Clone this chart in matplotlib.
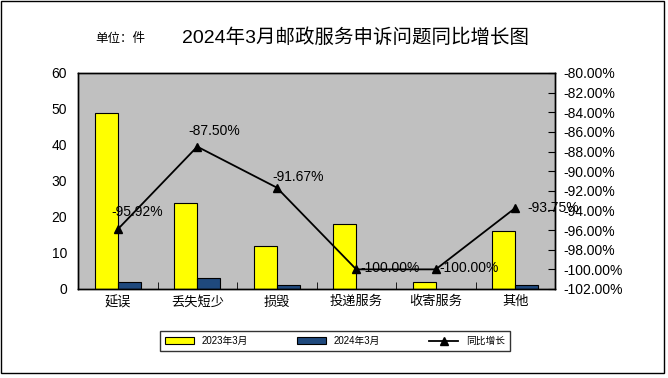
import numpy as np
import matplotlib
matplotlib.use("Agg")
import matplotlib.pyplot as plt
from matplotlib.ticker import FuncFormatter

plt.rcParams['font.family'] = ['Liberation Sans', 'Noto Sans CJK SC', 'DejaVu Sans']

categories = ['延误', '丢失短少', '损毁', '投递服务', '收寄服务', '其他']
y2023 = [49, 24, 12, 18, 2, 16]
y2024 = [2, 3, 1, 0, 0, 1]
growth = [-95.92, -87.50, -91.67, -100.00, -100.00, -93.75]
# label offsets in pixels (dx, dy) from the point
label_offsets = [(19, 17), (17, 16), (21, 11), (34, 1), (33, 1), (38, 0)]

fig = plt.figure(figsize=(6.68, 3.78), dpi=100)
fig.patches.append(plt.Rectangle((0.002, 0.012), 0.992, 0.985, transform=fig.transFigure,
                                 fill=False, edgecolor='black', linewidth=1))
ax = fig.add_axes([78/668, 1-289/378, 477/668, 216/378])
ax.set_facecolor('#c0c0c0')

x = np.arange(len(categories))
w = 0.29
b1 = ax.bar(x - w/2, y2023, w, color='#ffff00', edgecolor='black', linewidth=0.8, label='2023年3月')
b2 = ax.bar(x + w/2, y2024, w, color='#1f497d', edgecolor='black', linewidth=0.8, label='2024年3月')
ax.set_xlim(-0.5, len(categories) - 0.5)
ax.set_ylim(0, 60)
ax.set_yticks(range(0, 61, 10))
ax.tick_params(axis='y', length=0, labelsize=10, pad=8)
ax.set_xticks(x)
ax.set_xticklabels(categories, fontsize=9.5)
ax.tick_params(axis='x', length=0, pad=5)
ax.set_xticks(np.arange(0.5, len(categories) - 0.5), minor=True)
ax.tick_params(axis='x', which='minor', direction='in', length=5)

ax2 = ax.twinx()
ln, = ax2.plot(x, growth, color='black', marker='^', markersize=6, linewidth=1.3, label='同比增长')
ax2.set_ylim(-102, -80)
ax2.set_yticks(np.arange(-102, -79, 2))
ax2.yaxis.set_major_formatter(FuncFormatter(lambda v, p: f'{v:.2f}%'))
ax2.tick_params(axis='y', direction='in', length=5, labelsize=10, pad=6)
for xi, g, off in zip(x, growth, label_offsets):
    ax2.annotate(f'{g:.2f}%', (xi, g), xytext=off, textcoords='offset pixels',
                 fontsize=10, ha='center', va='center')

for a in (ax, ax2):
    for s in a.spines.values():
        s.set_linewidth(1)

fig.text(95/668, 1-39/378, '单位：件', fontsize=9, va='center')
fig.text(182/668, 1-38/378, '2024年3月邮政服务申诉问题同比增长图', fontsize=14, va='center')

leg = fig.legend(handles=[b1, b2, ln], loc='center', bbox_to_anchor=(335/668, 1-341/378),
                 ncol=3, fontsize=7, frameon=True, fancybox=False, edgecolor='black',
                 handlelength=3, handleheight=0.6, columnspacing=5, borderpad=0.5)
leg.get_frame().set_linewidth(1)

fig.savefig('out.png', dpi=100)
